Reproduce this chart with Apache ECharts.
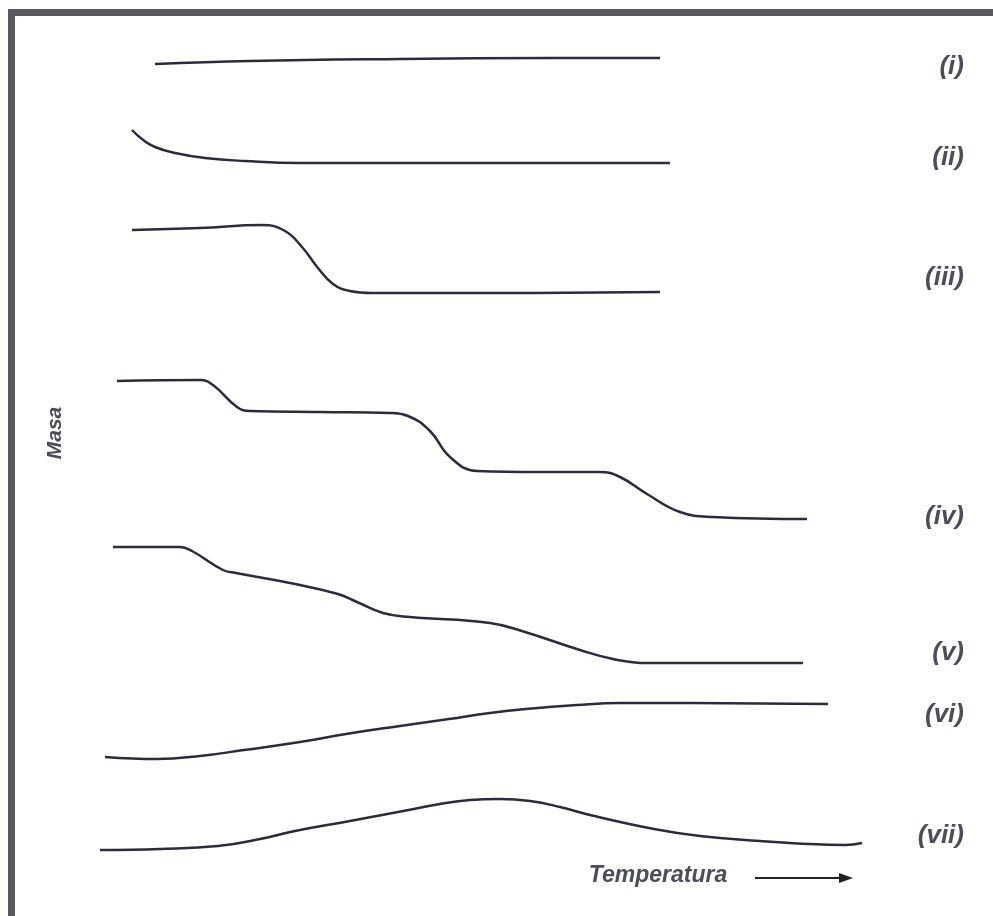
<!DOCTYPE html>
<html><head><meta charset="utf-8">
<script src="https://cdn.jsdelivr.net/npm/echarts@6/dist/echarts.min.js"></script>
<style>html,body{margin:0;padding:0;background:#fff}#c{width:993px;height:916px}</style>
</head><body><div id="c"></div>
<script>
// Curves as [temperature, mass] in the chart's drawing scale
const curveI = [[155,64],[250,61],[400,59],[550,58],[660,58]];
const curveII = [[132,130],[142,139],[155,147],[175,153],[205,158],[245,161],[300,163],[450,163],[670,163]];
const curveIII = [[132,230],[200,228],[262,225],[285,231],[302,247],[318,268],[333,284],[350,291],[372,293],[500,293],[660,292]];
const curveIV = [[117,381],[200,380],[213,385],[237,407],[250,411],[320,412],[390,413],[408,416],[430,431],[450,457],[477,471],[540,472],[600,472],[620,477],[647,494],[680,512],[713,517],[807,519]];
const curveV = [[113,547],[180,547],[192,551],[223,570],[236,573],[290,583],[338,594],[357,602],[383,613],[410,617],[490,623],[525,632],[580,650],[613,659],[647,663],[803,663]];
const curveVI = [[105,757],[157,759],[200,756],[244,750],[300,742],[346,734],[400,726],[449,719],[490,713],[526,709],[577,705],[620,703],[654,703],[828,704]];
const curveVII = [[100,850],[160,849],[218,846],[260,839],[295,831],[350,821],[398,812],[440,804],[470,800],[500,799],[530,801],[560,807],[590,815],[654,829],[700,836],[760,841],[808,844],[845,845],[862,843]];
const labels = ['(i)','(ii)','(iii)','(iv)','(v)','(vi)','(vii)'];
const labelY = [67,158,278,517,653,715,836];
const yTitle = 'Masa';
const xTitle = 'Temperatura';

const curves = [curveI,curveII,curveIII,curveIV,curveV,curveVI,curveVII];
const lineColor = '#2c2b3b';
const textColor = '#4b4e56';
const frameColor = '#58585f';
const fam = '"Liberation Sans", Arial, sans-serif';

const chart = echarts.init(document.getElementById('c'));
const series = curves.map((d,i)=>({
  type:'line', name:labels[i], data:d, smooth:0.45, symbol:'none',
  lineStyle:{color:lineColor,width:2.5}, silent:true, animation:false
}));
const graphics = [
  {type:'rect',shape:{x:8,y:9,width:985,height:7},style:{fill:frameColor}},
  {type:'rect',shape:{x:8,y:9,width:7,height:907},style:{fill:frameColor}},
  {type:'text',x:55,y:433,rotation:Math.PI/2,style:{text:yTitle,fill:textColor,font:'italic bold 21px '+fam,align:'center',verticalAlign:'middle'}},
  {type:'text',x:658,y:876,style:{text:xTitle,fill:textColor,font:'italic bold 23px '+fam,align:'center',verticalAlign:'middle'}},
  {type:'line',shape:{x1:755,y1:878,x2:842,y2:878},style:{stroke:'#222',lineWidth:2}},
  {type:'polygon',shape:{points:[[839,873],[853,878],[839,883]]},style:{fill:'#222'}}
];
labels.forEach((t,i)=>{
  graphics.push({type:'text',x:964,y:labelY[i],style:{text:t,fill:textColor,font:'italic bold 26px '+fam,align:'right',verticalAlign:'middle'}});
});
chart.setOption({
  animation:false,
  grid:{left:0,right:0,top:0,bottom:0},
  xAxis:{type:'value',min:0,max:993,show:false},
  yAxis:{type:'value',min:0,max:916,inverse:true,show:false},
  series:series,
  graphic:graphics
});
</script></body></html>
